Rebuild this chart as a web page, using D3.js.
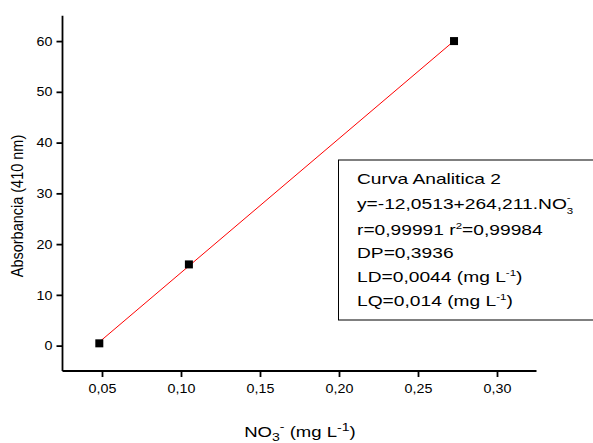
<!DOCTYPE html>
<html><head><meta charset="utf-8">
<script src="https://cdn.jsdelivr.net/npm/d3@7"></script>
<style>body{margin:0;background:#fff}svg{display:block}text{font-family:"Liberation Sans",Arial,sans-serif;fill:#000}</style>
</head><body><svg id="c" width="593" height="443"></svg>
<script>
// Data
const concX = [0.0483, 0.105, 0.2728];   // NO3- (mg L-1)
const absY  = [0.45, 16.0, 60.0];         // Absorbancia (410 nm)
const fitX  = [0.0483, 0.2728];            // fitted line ends
const fitY  = [0.71, 60.03];
const xTicks = [0.05, 0.10, 0.15, 0.20, 0.25, 0.30];
const xTickLabels = ["0,05","0,10","0,15","0,20","0,25","0,30"];
const xMinor = [0.025, 0.075, 0.125, 0.175, 0.225, 0.275, 0.325];
const yTicks = [0, 10, 20, 30, 40, 50, 60];
const yMinor = [-5, 5, 15, 25, 35, 45, 55, 65];

const svg = d3.select("#c");
const x = d3.scaleLinear().domain([0.025, 0.325]).range([62.5, 536.5]);
const y = d3.scaleLinear().domain([-5, 65]).range([371, 15.7]);

function stretch(sel, sx) {
  sel.each(function() {
    const t = d3.select(this);
    const ax = +t.attr("x") || 0, ay = +t.attr("y") || 0;
    t.attr("transform", `translate(${ax},${ay}) scale(${sx},1) translate(${-ax},${-ay})`);
  });
}

// X axis
const gx = svg.append("g").attr("transform", "translate(0,371)");
gx.call(d3.axisBottom(x).tickValues(xMinor).tickSize(3.5).tickFormat(""))
  .call(g => g.select(".domain").remove());
gx.call(d3.axisBottom(x).tickValues(xTicks).tickSize(6).tickPadding(7)
  .tickFormat((d,i) => xTickLabels[i]));
gx.selectAll("text").style("font-size","13px").attr("fill","#000");
stretch(gx.selectAll("text"), 1.1);
gx.selectAll("line,path").attr("stroke","#000").attr("stroke-width",1.8);
gx.select(".domain").attr("d", "M" + x.range()[0] + ",0H" + x.range()[1]);

// Y axis
const gy = svg.append("g").attr("transform", "translate(62.5,0)");
gy.call(d3.axisLeft(y).tickValues(yMinor).tickSize(3.5).tickFormat(""))
  .call(g => g.select(".domain").remove());
gy.call(d3.axisLeft(y).tickValues(yTicks).tickSize(6).tickPadding(4));
gy.selectAll("text").style("font-size","13px").attr("fill","#000");
stretch(gy.selectAll("text"), 1.1);
gy.selectAll("line,path").attr("stroke","#000").attr("stroke-width",1.8);
gy.select(".domain").attr("d", "M0," + y.range()[0] + "V" + y.range()[1]);

// Fit line
svg.append("path")
  .attr("d", d3.line().x(d => x(d[0])).y(d => y(d[1]))(fitX.map((v,i)=>[v, fitY[i]])))
  .attr("stroke", "#ff0000").attr("stroke-width", 1).attr("fill","none");

// Points
svg.selectAll("rect.pt").data(concX).enter().append("rect").attr("class","pt")
  .attr("x", d => x(d) - 4).attr("y", (d,i) => y(absY[i]) - 4)
  .attr("width", 8).attr("height", 8).attr("fill", "#000");

// Axis titles
svg.append("text").attr("transform","translate(23,206) rotate(-90) scale(1,1.2)")
  .attr("text-anchor","middle").style("font-size","14.5px").text("Absorbancia (410 nm)");

const xt = svg.append("text").attr("x", 300).attr("y", 437).attr("text-anchor","middle").style("font-size","14.5px");
xt.append("tspan").text("NO");
xt.append("tspan").attr("dy", 4).style("font-size","11px").text("3");
xt.append("tspan").attr("dy", -11).style("font-size","11px").text("-");
xt.append("tspan").attr("dy", 7).text(" (mg L");
xt.append("tspan").attr("dy", -6).style("font-size","11px").text("-1");
xt.append("tspan").attr("dy", 6).text(")");
stretch(xt, 1.28);

// Legend box
svg.append("rect").attr("x", 338.5).attr("y", 160).attr("width", 270).attr("height", 160)
  .attr("fill","#fff").attr("stroke","#000").attr("stroke-width",1);
const lx = 357, fs = "15px", lsx = 1.28;
const L = (yy) => svg.append("text").attr("x", lx).attr("y", yy).style("font-size", fs);
let t;
t = L(184); t.text("Curva Analitica 2"); stretch(t, lsx);
t = L(209); t.append("tspan").text("y=-12,0513+264,211.NO");
t.append("tspan").attr("dy",5).style("font-size","9px").text("3");
t.append("tspan").attr("dy",-13).attr("dx",-5).style("font-size","9px").text("-");
stretch(t, lsx);
t = L(235); t.append("tspan").text("r=0,99991 r");
t.append("tspan").attr("dy",-6).style("font-size","9px").text("2");
t.append("tspan").attr("dy",6).text("=0,99984");
stretch(t, lsx);
t = L(258); t.text("DP=0,3936"); stretch(t, lsx);
t = L(282); t.append("tspan").text("LD=0,0044 (mg L");
t.append("tspan").attr("dy",-6).style("font-size","9px").text("-1");
t.append("tspan").attr("dy",6).text(")");
stretch(t, lsx);
t = L(306); t.append("tspan").text("LQ=0,014 (mg L");
t.append("tspan").attr("dy",-6).style("font-size","9px").text("-1");
t.append("tspan").attr("dy",6).text(")");
stretch(t, lsx);
</script></body></html>
